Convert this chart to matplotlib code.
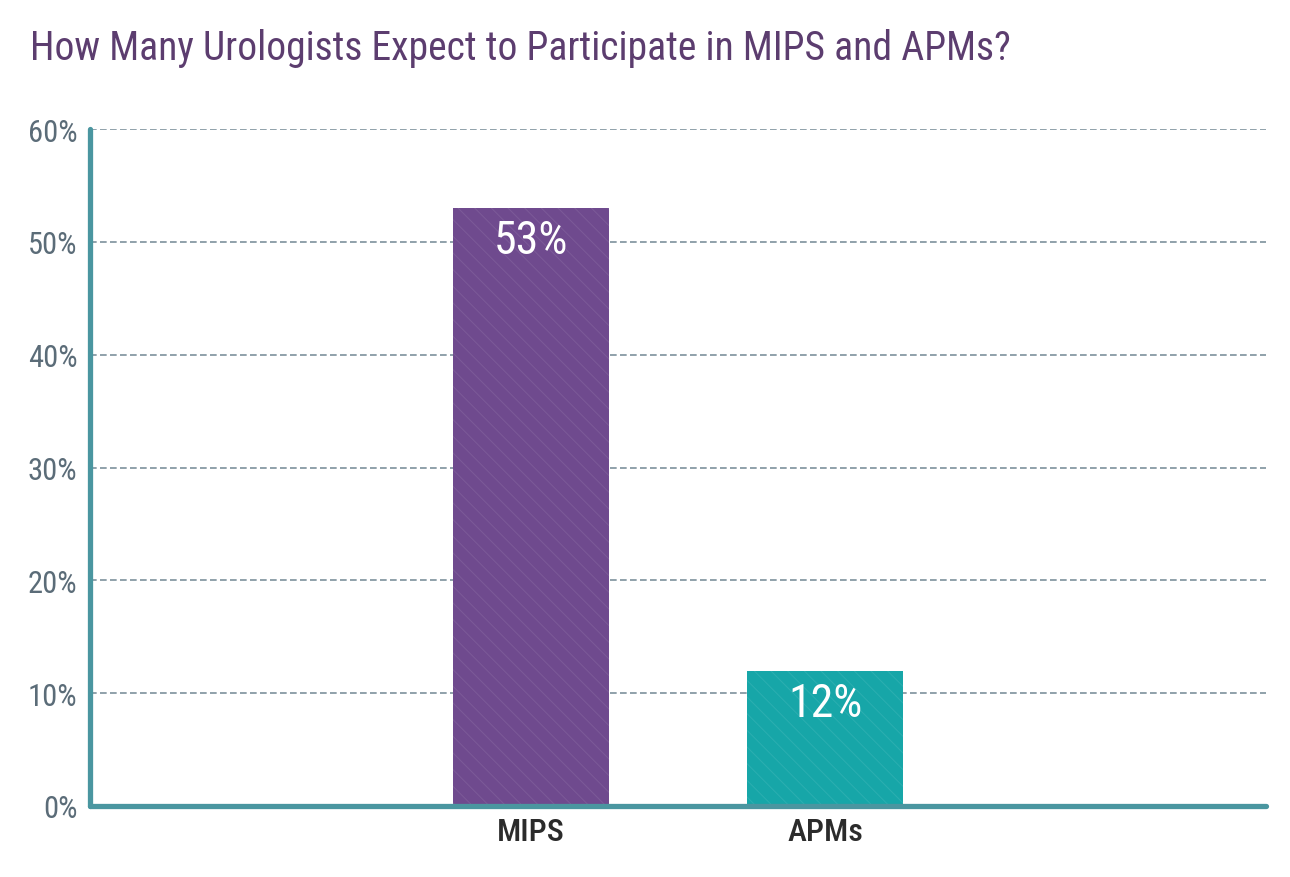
import numpy as np
import matplotlib
matplotlib.use("Agg")
import matplotlib.pyplot as plt

plt.rcParams['font.family'] = ['Roboto Condensed', 'Roboto', 'DejaVu Sans']

categories = ['MIPS', 'APMs']
values = [53, 12]
bar_colors = ['#6f4a8e', '#17a6a8']
yticks = [0, 10, 20, 30, 40, 50, 60]

title = 'How Many Urologists Expect to Participate in MIPS and APMs?'

fig = plt.figure(figsize=(12.9, 8.78), dpi=100)
ax = fig.add_axes([90 / 1290, 1 - 807 / 878, (1266 - 90) / 1290, (807 - 130) / 878])

x = np.arange(len(categories))
plt.rcParams['hatch.linewidth'] = 0.7
bars = ax.bar(x, values, width=0.53, color=bar_colors, zorder=3,
              hatch='\\\\', edgecolor=(1, 1, 1, 0.09), linewidth=0)

# value labels inside the bars
for rect, v in zip(bars, values):
    ax.text(rect.get_x() + rect.get_width() / 2, v - 0.9, '{}%'.format(v),
            ha='center', va='top', color='white', fontsize=33, zorder=4)

ax.set_xlim(-1.5, 2.5)
ax.set_ylim(0, 60)
ax.set_xticks(x)
ax.set_xticklabels(categories, fontsize=23, color='#2b2b2b', fontweight='medium')
ax.set_yticks(yticks)
ax.set_yticklabels(['{}%'.format(t) for t in yticks], fontsize=22, color='#5b6c78')
ax.tick_params(axis='both', length=0)
ax.tick_params(axis='y', pad=9)
ax.tick_params(axis='x', pad=8)

ax.yaxis.grid(True, linestyle=(0, (4, 2)), color='#7d919c', linewidth=1.2, zorder=1)
ax.set_axisbelow(True)

for s in ['top', 'right']:
    ax.spines[s].set_visible(False)
for s in ['left', 'bottom']:
    ax.spines[s].set_color('#4a96a0')
    ax.spines[s].set_linewidth(3.8)
    ax.spines[s].set_capstyle('round')
    ax.spines[s].set_zorder(5)

fig.text(30 / 1290, 1 - 60 / 878, title, fontsize=28.5, color='#5c3d6f',
         ha='left', va='baseline')

fig.savefig('out.png', dpi=100, facecolor='white')
